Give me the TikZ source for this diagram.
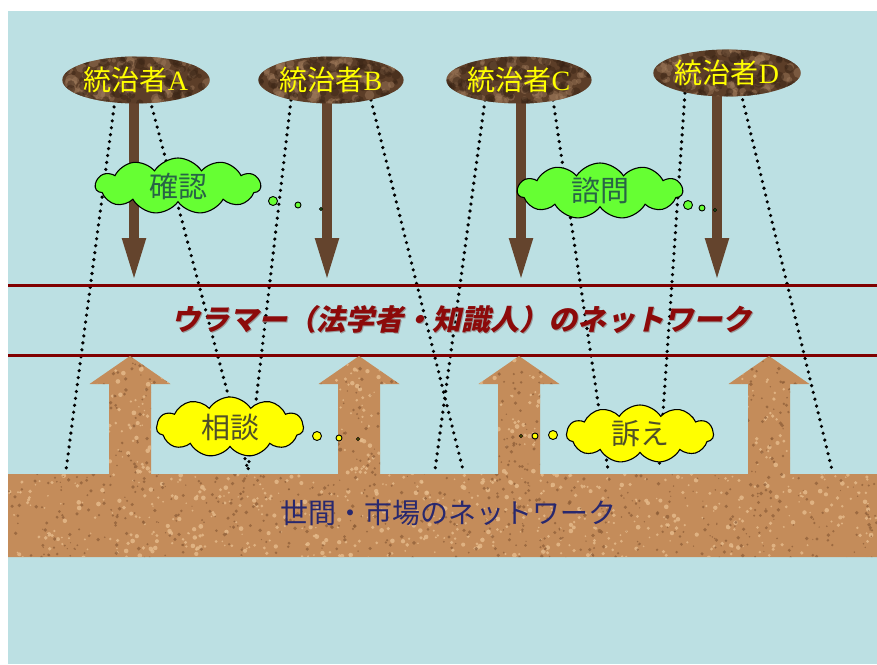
\documentclass[tikz,border=0pt]{standalone}
\usepackage{fontspec}
\setmainfont{Liberation Serif}
\newfontfamily\jp{Noto Sans CJK JP}
\newfontfamily\jpt{Noto Sans CJK JP}[FakeSlant=0.22]
\usetikzlibrary{shapes.geometric,shapes.symbols,arrows.meta,calc}
\definecolor{bgblue}{RGB}{188,224,227}
\definecolor{brownbase}{RGB}{92,62,40}
\definecolor{brownlight}{RGB}{160,124,92}
\definecolor{browndark}{RGB}{55,34,20}
\definecolor{stembrown}{RGB}{100,68,45}
\definecolor{corkcol}{RGB}{196,140,90}
\definecolor{corklight}{RGB}{230,188,140}
\definecolor{corkdark}{RGB}{140,92,55}
\definecolor{netred}{RGB}{128,0,0}
\definecolor{titlered}{RGB}{140,10,10}
\definecolor{cloudgreen}{RGB}{102,255,51}
\definecolor{cloudyellow}{RGB}{255,255,0}
\definecolor{greentext}{RGB}{40,100,70}
\definecolor{yellowtext}{RGB}{80,80,40}
\definecolor{navytext}{RGB}{40,40,110}
\definecolor{ruleryellow}{RGB}{255,255,0}
\tikzset{
  ruler/.style={ellipse, fill=brownbase, minimum width=140pt, minimum height=47pt,
    inner sep=0pt, text=ruleryellow, font=\fontsize{28}{30}\selectfont,
    path picture={
      \foreach \i in {1,...,90}{
        \pgfmathsetmacro\px{-72+144*rnd}\pgfmathsetmacro\py{-25+50*rnd}
        \pgfmathsetmacro\pr{2+4*rnd}
        \fill[brownlight, opacity=0.45] ($(path picture bounding box.center)+(\px,\py)$) circle (\pr);}
      \foreach \i in {1,...,90}{
        \pgfmathsetmacro\px{-72+144*rnd}\pgfmathsetmacro\py{-25+50*rnd}
        \pgfmathsetmacro\pr{2+4*rnd}
        \fill[browndark, opacity=0.45] ($(path picture bounding box.center)+(\px,\py)$) circle (\pr);}
    }},
  downarrow/.style={draw=stembrown, line width=10pt,
    -{Triangle[width=21pt,length=45pt,fill=stembrown]}},
  dotline/.style={draw=black, line width=3.6pt, line cap=round, dash pattern=on 0pt off 7pt},
  netline/.style={draw=netred, line width=3pt},
  thought/.style={cloud, cloud puffs=11, cloud puff arc=115, aspect=3, draw=black,
    line width=1.1pt, inner sep=0pt, minimum width=165pt, minimum height=56pt,
    font=\jp\fontsize{29}{31}\selectfont},
  bubble/.style={circle, draw=black, line width=0.9pt, inner sep=0pt}
}
\newcommand\corkoutline[1]{%
  \path[#1] (8,474) \foreach \c in {130,359,519,769}{
      -- (\c-21,474) -- (\c-21,384) -- (\c-40.5,384) -- (\c,356)
      -- (\c+40.5,384) -- (\c+21,384) -- (\c+21,474)}
    -- (877,474) -- (877,557) -- (8,557) -- cycle;}
\newcommand\titletext{ウラマー（法学者・知識人）のネットワーク}
\begin{document}
\begin{tikzpicture}[x=1pt,y=-1pt]
\pgfmathsetseed{7}
% frame
\fill[white] (0,0) rectangle (877,664);
\fill[bgblue] (8,11) rectangle (877,664);
\useasboundingbox (0,0) rectangle (877,664);

% dotted connectors (behind everything)
\coordinate (a1) at (115,100); \coordinate (a2) at (66,470);
\coordinate (b1) at (150,100); \coordinate (b2) at (248,470);
\coordinate (c1) at (291,100); \coordinate (c2) at (248,470);
\coordinate (d1) at (371,100); \coordinate (d2) at (463,470);
\coordinate (e1) at (485,100); \coordinate (e2) at (435,470);
\coordinate (f1) at (553,100); \coordinate (f2) at (608,470);
\coordinate (g1) at (685,93);  \coordinate (g2) at (659,470);
\coordinate (h1) at (741,93);  \coordinate (h2) at (832,470);
\foreach \p in {a,b,c,d,e,f,g,h}{\draw[dotline] (\p1) -- (\p2);}

% down arrows from rulers
\coordinate (At) at (134,283);
\coordinate (Bt) at (327,283);
\coordinate (Ct) at (521,283);
\coordinate (Dt) at (717,283);
\draw[downarrow] (134,85) -- (At);
\draw[downarrow] (327,85) -- (Bt);
\draw[downarrow] (521,85) -- (Ct);
\draw[downarrow] (717,78) -- (Dt);

% rulers
\node[ruler] (A) at (136,80) {{\jp 統治者}A};
\node[ruler] (B) at (331,80) {{\jp 統治者}B};
\node[ruler] (C) at (519,80) {{\jp 統治者}C};
\node[ruler] (D) at (727,73) {{\jp 統治者}D};

% ulama network lines
\coordinate (L1w) at (8,285.5); \coordinate (L1e) at (877,285.5);
\coordinate (L2w) at (8,355);   \coordinate (L2e) at (877,355);
\draw[netline] (L1w) -- (L1e);
\draw[netline] (L2w) -- (L2e);
\node[font=\jpt\bfseries\fontsize{29}{31}\selectfont, inner sep=0pt] (title) at (461,320)
  {\rlap{\kern1.6pt\raisebox{-1.6pt}{\textcolor{black!40}{\titletext}}}\textcolor{titlered}{\titletext}};

% cork band with up arrows
\corkoutline{fill=corkcol}
\begin{scope}
  \corkoutline{clip}
  \foreach \i in {1,...,1400}{
    \pgfmathsetmacro\px{8+869*rnd}\pgfmathsetmacro\py{354+204*rnd}
    \pgfmathsetmacro\pr{0.8+1.6*rnd}
    \fill[corklight, opacity=0.8] (\px,\py) circle (\pr);}
  \foreach \i in {1,...,1400}{
    \pgfmathsetmacro\px{8+869*rnd}\pgfmathsetmacro\py{354+204*rnd}
    \pgfmathsetmacro\pr{0.6+1.4*rnd}
    \fill[corkdark, opacity=0.7] (\px,\py) circle (\pr);}
\end{scope}
\node[text=navytext, font=\jp\fontsize{28}{30}\selectfont] (market) at (448,513)
  {世間・市場のネットワーク};

% thought clouds
\node[thought, fill=cloudgreen, text=greentext] (kakunin) at (178,186) {確認};
\node[bubble, fill=cloudgreen, minimum size=9pt] (k1) at (273,201) {};
\node[bubble, fill=cloudgreen, minimum size=6pt] (k2) at (298,205) {};
\node[bubble, fill=cloudgreen, minimum size=3pt] (k3) at (321,209) {};

\node[thought, fill=cloudgreen, text=greentext] (shimon) at (600,191) {諮問};
\node[bubble, fill=cloudgreen, minimum size=9pt] (s1) at (688,205) {};
\node[bubble, fill=cloudgreen, minimum size=6pt] (s2) at (702,208) {};
\node[bubble, fill=cloudgreen, minimum size=3pt] (s3) at (715,210) {};

\node[thought, fill=cloudyellow, text=yellowtext, minimum width=147pt, minimum height=60pt] (sodan) at (230,427) {相談};
\node[bubble, fill=cloudyellow, minimum size=9pt] (y1) at (317,436) {};
\node[bubble, fill=cloudyellow, minimum size=6pt] (y2) at (339,438) {};
\node[bubble, fill=cloudyellow, minimum size=3pt] (y3) at (358,439) {};

\node[thought, fill=cloudyellow, text=yellowtext, minimum width=147pt, minimum height=58pt] (uttae) at (640,434) {訴え};
\node[bubble, fill=cloudyellow, minimum size=9pt] (u1) at (553,435) {};
\node[bubble, fill=cloudyellow, minimum size=6pt] (u2) at (535,436) {};
\node[bubble, fill=cloudyellow, minimum size=3pt] (u3) at (521,436) {};
\end{tikzpicture}
\end{document}
